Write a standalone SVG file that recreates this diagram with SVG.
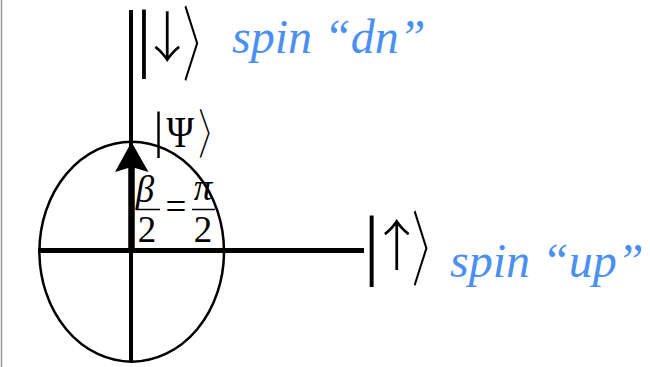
<svg xmlns="http://www.w3.org/2000/svg" width="650" height="367" viewBox="0 0 650 367">
<style>
.s{font-family:"Liberation Serif",serif;fill:#000}
.m{text-anchor:middle}
.b{font-family:"Liberation Serif",serif;font-style:italic;fill:#4a90f0}
.br{font-family:"Noto Sans CJK JP",sans-serif;fill:#000;font-weight:200}
.ar{font-family:"Noto Sans CJK JP",sans-serif;fill:#000;font-weight:300;text-anchor:middle}
.ax{stroke:#000;fill:none}
</style>
<rect width="650" height="367" fill="#fff"/>
<line x1="1.5" y1="0" x2="1.5" y2="367" stroke="#999" stroke-width="1.5"/>
<g id="circle"><ellipse cx="131.7" cy="251.7" rx="92.3" ry="110" fill="none" stroke="#000" stroke-width="2.5"/></g>
<g id="connectors">
<line class="ax" x1="131" y1="10" x2="131" y2="362" stroke-width="4"/>
<line class="ax" x1="38" y1="250.5" x2="364" y2="250.5" stroke-width="5"/>
<line class="ax" x1="131.5" y1="250" x2="131.5" y2="166" stroke-width="6.5"/>
<path d="M131.5,142 L115,172 L131.5,167 L148.5,172 Z" fill="#000"/>
</g>
<g id="ket-dn">
<text class="s m" x="144" y="62.7" font-size="77">|</text>
<text class="ar" x="167.2" y="56.6" font-size="55">↓</text>
<text class="br" transform="translate(182.5,74) scale(0.485,1)" font-size="82">〉</text>
</g>
<g id="label-dn"><text class="b" x="232" y="53" font-size="48">spin “dn”</text></g>
<g id="ket-up">
<text class="s m" x="371.7" y="269.8" font-size="79">|</text>
<text class="ar" x="396.7" y="264.6" font-size="55">↑</text>
<text class="br" transform="translate(411.8,279.4) scale(0.485,1)" font-size="82">〉</text>
</g>
<g id="label-up"><text class="b" x="450" y="277" font-size="48">spin “up”</text></g>
<g id="ket-psi">
<text class="s m" x="158.5" y="146.5" font-size="50">|</text>
<text class="s m" transform="translate(180.3,146.7) scale(0.84,1)" font-size="44.4">Ψ</text>
<text class="br" transform="translate(198.2,153.7) scale(0.535,1)" font-size="53.4">〉</text>
</g>
<g id="fraction">
<text class="s m" x="145" y="202" font-size="37" font-style="italic">β</text>
<line x1="136" y1="209.5" x2="160" y2="209.5" stroke="#000" stroke-width="1.5"/>
<text class="s m" x="147" y="242" font-size="37">2</text>
<text class="s m" x="176" y="219" font-size="37">=</text>
<text class="s m" x="203" y="200" font-size="37" font-style="italic">π</text>
<line x1="192" y1="209.5" x2="215" y2="209.5" stroke="#000" stroke-width="1.5"/>
<text class="s m" x="203" y="242" font-size="37">2</text>
</g>
</svg>
